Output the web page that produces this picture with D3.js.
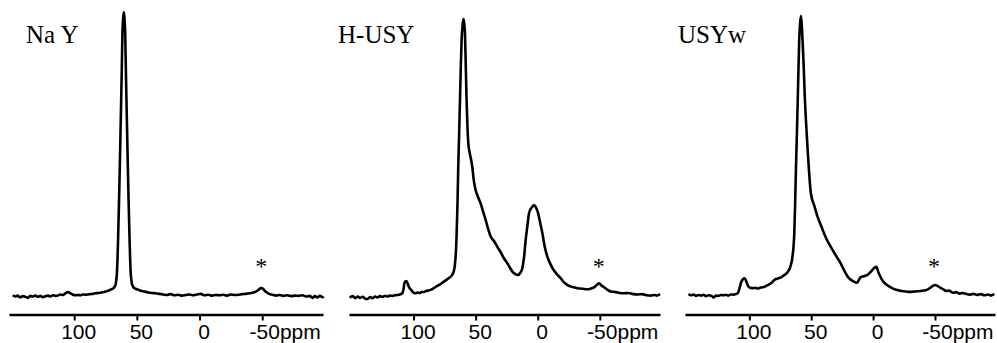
<!DOCTYPE html>
<html>
<head>
<meta charset="utf-8">
<script src="https://cdn.jsdelivr.net/npm/d3@7"></script>
<style>
  html, body { margin: 0; padding: 0; background: #fff; }
  svg { display: block; }
</style>
</head>
<body>
<svg id="chart" width="997" height="343"></svg>
<script>
// ---------- DATA ----------
const panelNames = ["Na Y", "H-USY", "USYw"];
const tickValues = [100, 50, 0, -50];
const tickUnit = "ppm";
const sidebandPpm = -50;           // spinning sideband marked with *
const ppmDomain = [152, -98.5];
const intensityDomain = [0, 100];

// [ppm, relative intensity]
const spectrumNaY = [
  [149,0.6],[147,0.2],[145,0.5],[143,-0.2],[141,0.3],[139,0.1],[137,-0.3],[135,0.4],[133,0.2],[131,0.5],
  [129,0.1],[127,0.4],[125,-0.1],[123,0.3],[121,0.5],[119,0.2],[117,0.6],[115,0.4],[113,0.5],[111,0.9],
  [109,0.7],[107,1.3],[105,1.7],[103,1.3],[101,0.8],[99,0.6],[97,0.7],[95,0.6],[93,0.9],[91,0.8],
  [89,0.9],[87,1.0],[85,1.1],[83,1.3],[81,1.4],[79,1.5],[77,1.7],[75,1.9],[73,2.2],[71,2.6],
  [69,3.0],[68.4,3.2],[67.5,3.8],[66.9,4.5],[66.4,6],[65.9,8.4],[65.4,14],[65,20],[64.6,27],[64.2,34],
  [63.5,48],[62.8,63],[62.1,78],[61.5,92.6],[60.9,98],[60.4,100],[59.9,98],[59.3,92.6],[58.7,78],[58,63],
  [57.3,48],[56.6,34],[56.2,27],[55.8,20],[55.4,14],[54.9,8.4],[54.4,6],[53.9,4.5],[53.2,3.8],[52.4,3.2],
  [51,2.9],[49,2.6],[47,2.2],[44,1.9],[41,1.6],[38,1.4],[35,1.3],[32,1.1],[29,0.9],[26,0.7],
  [23,1.0],[20,0.6],[17,0.8],[14,0.5],[11,0.7],[8,0.9],[5,0.6],[2,0.9],[-1,1.1],[-4,0.6],
  [-7,0.8],[-10,0.5],[-13,0.7],[-16,0.6],[-19,0.8],[-22,0.5],[-25,0.9],[-28,0.7],[-31,0.8],[-34,1.0],
  [-37,1.1],[-40,1.3],[-43,1.6],[-45,1.9],[-47,2.5],[-49,3.1],[-50.5,2.9],[-52,2.2],[-54,1.5],[-56,1.0],
  [-58,0.8],[-61,0.5],[-64,0.7],[-67,0.4],[-70,0.6],[-73,0.3],[-76,0.5],[-79,0.4],[-82,0.6],[-85,0.2],
  [-88,0.4],[-90,-0.3],[-92,0.3],[-94,-0.2],[-96,0.4],[-98,-0.1],[-99,0.2]
];

const spectrumHUSY = [
  [151.5,-0.2],[149,0.3],[147,-0.4],[145,0.2],[143,-0.3],[141,0.1],[139,-0.6],[137,-0.7],[135,0.0],[133,-0.4],
  [131,0.2],[129,-0.2],[127,0.3],[125,0.1],[123,0.4],[121,0.2],[119,0.5],[117,0.4],[115,0.6],[113,0.7],
  [111,0.9],[109.1,1.3],[108,3],[107.3,5],[106,5.6],[105,5.0],[104,3.8],[102.4,2.7],[101,2.0],[99.5,1.4],
  [98.4,1.3],[97,1.6],[95,1.4],[93,1.8],[91.7,1.75],[90,2.1],[88,2.3],[86.3,2.5],[84,3.0],[82,3.6],
  [80.9,3.9],[78,4.6],[75.6,5.4],[73,6.2],[70.2,7.1],[68,8.5],[66.9,10.6],[66,15],[65.3,22.3],[64.6,33],
  [64,45.7],[63.3,57],[62.6,69.1],[62,80],[61.3,90.2],[60.6,95],[59.9,97.5],[59.2,96],[58.6,92.5],[58,82],
  [57.3,69.1],[56.6,60],[55.9,53.9],[54.5,50],[52.7,45.7],[51.5,41],[50,37.5],[48,35],[46,32.9],[44,30],
  [41.9,27],[40,24],[37.9,21.2],[35,19.5],[32.5,17.6],[30,15.8],[27.2,13.6],[24,11.5],[22,10],[20.4,8.9],
  [18,8],[15.9,7.7],[14,8.5],[12.4,10.1],[11,14],[9.7,20],[8.3,25],[7,29.4],[5.5,31],[4.3,31.7],
  [3,32.3],[1.5,31.5],[-0.3,29.4],[-2,26],[-3.8,22.3],[-5.5,18],[-7.8,14.1],[-10,11.8],[-11.9,10.1],[-15,8.2],
  [-18.5,6.6],[-21,5.2],[-24,4.2],[-28,3.5],[-32,3.1],[-36,2.9],[-40.1,2.7],[-43,3.0],[-45.4,3.4],[-47.5,4.2],
  [-49.4,4.8],[-51.5,4.0],[-53.5,3.4],[-56,2.6],[-58.9,1.9],[-62,1.8],[-65,1.5],[-69.6,1.3],[-73,1.4],[-77,1.0],
  [-80.4,0.9],[-84,1.0],[-88,0.6],[-91.1,0.5],[-94,0.7],[-96,0.5],[-98.6,1.05]
];

const spectrumUSYw = [
  [149.2,1.05],[147,0.6],[145,0.9],[143,0.4],[141,0.7],[139,0.5],[137,0.8],[135,0.3],[133,0.6],[130.5,0.35],
  [129,-0.2],[127,0.5],[125,0.4],[123,0.7],[121,0.6],[119,0.8],[117,0.5],[115,0.9],[113,0.8],[111,1.0],
  [109.1,1.5],[108,3],[106.4,5.4],[105,6.3],[103.8,6.6],[102.5,5.5],[101.5,4.3],[100.6,3.6],[99,3.2],[97,3.1],
  [95,3.2],[93,3.0],[91,3.3],[89,3.4],[87.7,3.6],[85,4.2],[82,5.0],[79.7,6],[77,6.5],[74,7.0],
  [71.7,7.7],[69,8.8],[66.9,10.6],[65.2,14],[63.7,22.3],[63,33],[62.3,45.7],[61.6,57],[60.9,69.1],[60.3,80],
  [59.7,90.2],[59,96],[58.3,98.6],[57.6,95],[56.9,89],[56,80],[55.1,69.1],[54,60],[52.9,51.6],[51.6,43],
  [50.3,36.4],[47.5,32],[44.9,28.2],[42,25],[39.6,22.3],[37,19.8],[34.2,17.6],[30,14.5],[26.2,11.8],[23,9],
  [19.5,6.6],[16,5.5],[12.8,5.0],[11.5,6],[10.2,6.9],[7.5,7.3],[4.8,7.7],[2,8.8],[0,9.8],[-1.5,10.4],
  [-2.7,10.6],[-4,9],[-5.9,7.1],[-8,5.5],[-11.3,4.2],[-15,3.2],[-18,2.6],[-21.9,2.2],[-25,2.0],[-29,1.8],
  [-32.6,1.9],[-36,2.0],[-40,2.2],[-43.4,2.5],[-46,3.2],[-48,3.8],[-50,4.2],[-52,3.9],[-54.5,3.2],[-56.7,2.7],
  [-59,2.1],[-61,2.3],[-64.7,1.5],[-67,1.7],[-70,1.2],[-72,1.4],[-75.4,1.05],[-78,0.8],[-81,1.1],[-84,0.7],
  [-87,1.0],[-90,0.6],[-93,0.9],[-95,0.5],[-98,1.05]
];

const spectra = [spectrumNaY, spectrumHUSY, spectrumUSYw];

// ---------- LAYOUT ----------
const panelRanges = [[9, 323], [349, 660], [685, 995]];
const axisY = 314.5;
const svg = d3.select("#chart");

const y = d3.scaleLinear().domain(intensityDomain).range([297, 12]);

spectra.forEach((data, i) => {
  const x = d3.scaleLinear().domain(ppmDomain).range(panelRanges[i]);
  const g = svg.append("g");

  // spectrum trace
  const line = d3.line()
    .x(d => x(d[0]))
    .y(d => y(d[1]))
    .curve(d3.curveMonotoneX);
  g.append("path")
    .datum(data)
    .attr("fill", "none")
    .attr("stroke", "#000")
    .attr("stroke-width", 2.6)
    .attr("stroke-linejoin", "round")
    .attr("d", line);

  // axis
  const axis = d3.axisBottom(x)
    .tickValues(tickValues)
    .tickSize(6)
    .tickSizeOuter(0)
    .tickFormat(d3.format("d"));
  const ax = g.append("g")
    .attr("transform", `translate(0,${axisY})`)
    .call(axis);
  ax.select(".domain").attr("stroke", "#000").attr("stroke-width", 2.6);
  ax.selectAll(".tick line").attr("stroke", "#000").attr("stroke-width", 2);
  ax.selectAll(".tick text")
    .attr("fill", "#000")
    .attr("font-family", "'Liberation Sans', Arial, sans-serif")
    .attr("font-size", 21)
    .attr("y", 24)
    .attr("dy", 0)
    .attr("dx", d => d === tickValues[tickValues.length - 1] ? 2 : 4)
    .text(d => d3.format("d")(d).replace("\u2212", "-"));
  // unit directly after last tick label
  ax.selectAll(".tick text").filter(d => d === tickValues[tickValues.length - 1])
    .each(function() {
      const bb = this.getBBox();
      d3.select(this.parentNode).append("text")
        .attr("x", bb.x + bb.width)
        .attr("y", 24)
        .attr("fill", "#000")
        .attr("font-family", "'Liberation Sans', Arial, sans-serif")
        .attr("font-size", 21)
        .attr("text-anchor", "start")
        .text(tickUnit);
    });

  // sideband asterisk
  g.append("text")
    .attr("x", x(sidebandPpm) - 1)
    .attr("y", 274)
    .attr("text-anchor", "middle")
    .attr("font-family", "'Liberation Serif', 'Times New Roman', serif")
    .attr("font-size", 24)
    .attr("fill", "#000")
    .text("*");

  // panel title
  g.append("text")
    .attr("x", panelRanges[i][0] + [17, -11, -7][i])
    .attr("y", 43)
    .attr("font-family", "'Liberation Serif', 'Times New Roman', serif")
    .attr("font-size", 25)
    .attr("fill", "#000")
    .text(panelNames[i]);
});
</script>
</body>
</html>
